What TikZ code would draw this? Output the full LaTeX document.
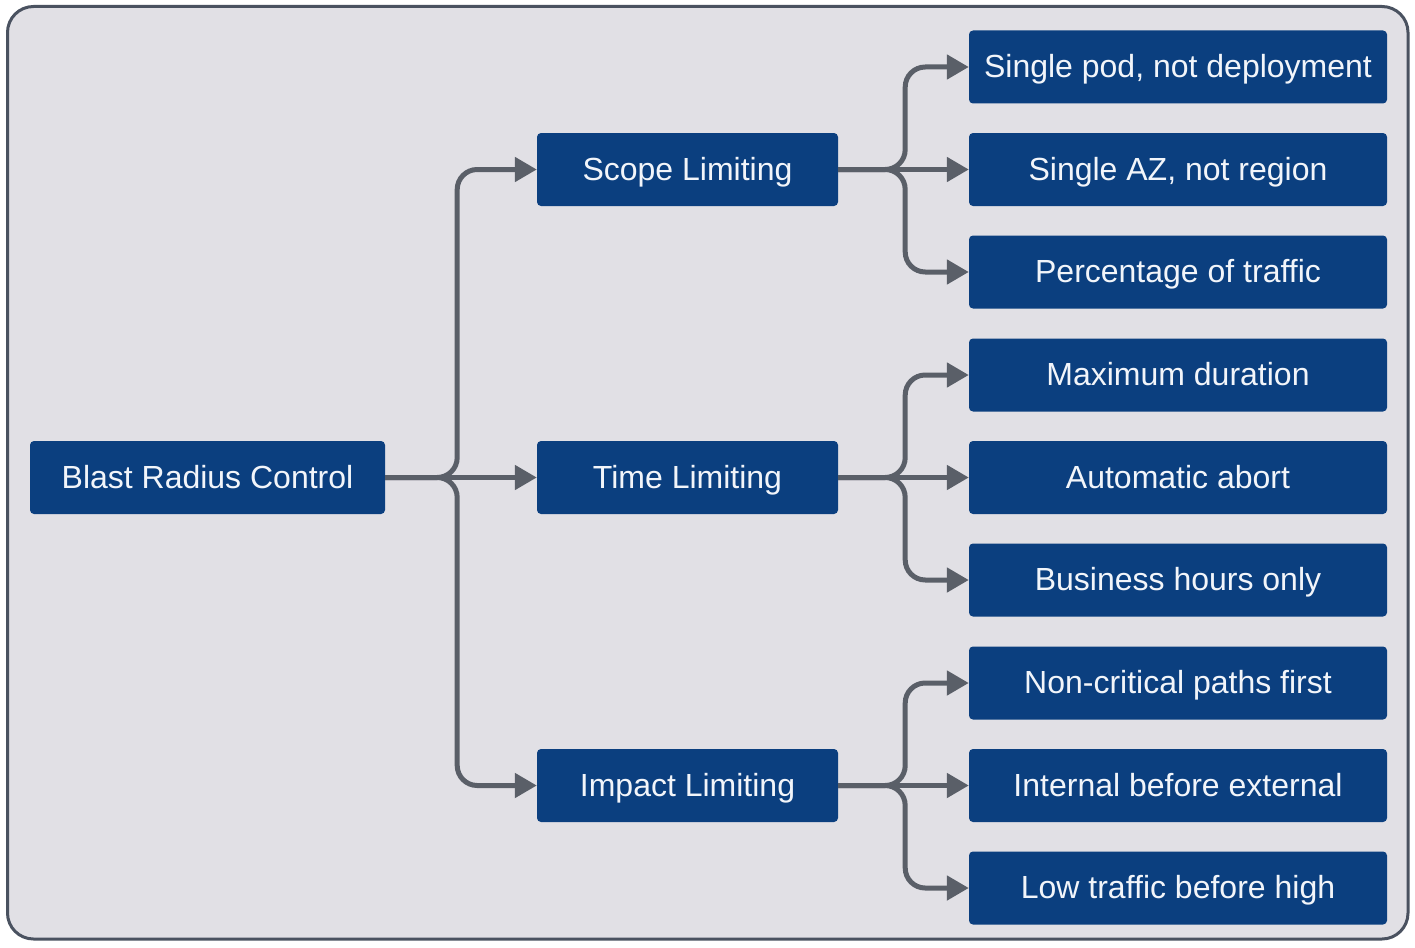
\documentclass[tikz,border=0pt]{standalone}
\usepackage{fontspec}
\setmainfont{Liberation Sans}
\usetikzlibrary{arrows.meta,calc}
\definecolor{PanelGrey}{HTML}{E1E0E5}
\definecolor{FrameSlate}{HTML}{4A5260}
\definecolor{BoxNavy}{HTML}{0B3F7F}
\definecolor{LinkGrey}{HTML}{5A5F68}
\definecolor{TextLight}{HTML}{F2F5FA}

\begin{document}
\begin{tikzpicture}[x=1pt,y=-1pt,
    every node/.style={font=\fontsize{32}{38}\selectfont},
    box/.style={fill=BoxNavy, text=TextLight, rounded corners=4pt,
                inner sep=0pt, minimum height=73pt,
                text height=28pt, text depth=7pt},
    ar/.style={-{Triangle[length=22pt,width=24pt]}, LinkGrey,
               line width=5pt, rounded corners=20pt}]
  \useasboundingbox (0,0) rectangle (1415,947);
  % panel
  \draw[FrameSlate, line width=3pt, fill=PanelGrey, rounded corners=26pt]
    (7.5,6.5) rectangle (1408,939);

  % root and the three limiting groups
  \node[box, minimum width=355pt] (brc) at (207.5,477.5) {Blast Radius Control};
  \node[box, minimum width=301pt] (scope) at (687.5,169.5) {Scope Limiting};
  \node[box, minimum width=301pt] (time) at (687.5,477.5) {Time Limiting};
  \node[box, minimum width=301pt] (impact) at (687.5,785.5) {Impact Limiting};

  % leaves
  \node[box, minimum width=418pt] (pod) at (1178,67) {Single pod, not deployment};
  \node[box, minimum width=418pt] (az) at (1178,169.5) {Single AZ, not region};
  \node[box, minimum width=418pt] (pct) at (1178,272) {Percentage of traffic};
  \node[box, minimum width=418pt] (dur) at (1178,375) {Maximum duration};
  \node[box, minimum width=418pt] (abort) at (1178,477.5) {Automatic abort};
  \node[box, minimum width=418pt] (hours) at (1178,580) {Business hours only};
  \node[box, minimum width=418pt] (noncrit) at (1178,683) {Non-critical paths first};
  \node[box, minimum width=418pt] (internal) at (1178,785.5) {Internal before external};
  \node[box, minimum width=418pt] (lowtr) at (1178,888) {Low traffic before high};

  \draw[ar] (brc.east) -- ++(72,0) |- (scope.west);
  \draw[ar] (brc.east) -- (time.west);
  \draw[ar] (brc.east) -- ++(72,0) |- (impact.west);

  \draw[ar] (scope.east) -- ++(67,0) |- (pod.west);
  \draw[ar] (scope.east) -- (az.west);
  \draw[ar] (scope.east) -- ++(67,0) |- (pct.west);

  \draw[ar] (time.east) -- ++(67,0) |- (dur.west);
  \draw[ar] (time.east) -- (abort.west);
  \draw[ar] (time.east) -- ++(67,0) |- (hours.west);

  \draw[ar] (impact.east) -- ++(67,0) |- (noncrit.west);
  \draw[ar] (impact.east) -- (internal.west);
  \draw[ar] (impact.east) -- ++(67,0) |- (lowtr.west);
\end{tikzpicture}
\end{document}
